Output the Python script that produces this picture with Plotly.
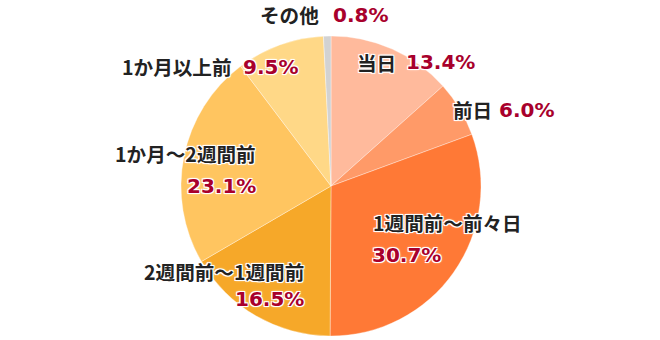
import plotly.graph_objects as go

labels = ["当日", "前日", "1週間前～前々日", "2週間前～1週間前", "1か月～2週間前", "1か月以上前", "その他"]
values = [13.4, 6.0, 30.7, 16.5, 23.1, 9.5, 0.8]
colors = ["#FFBA9C", "#FF9A68", "#FF7936", "#F6A829", "#FFC560", "#FFD887", "#D2D2D2"]

W, H = 660, 340

fig = go.Figure(go.Pie(
    labels=labels, values=values, sort=False, direction="clockwise", rotation=0,
    marker=dict(colors=colors, line=dict(color="rgba(255,255,255,0.35)", width=1)),
    textinfo="none", hoverinfo="label+percent", showlegend=False,
    domain=dict(x=[181 / W, 481 / W], y=[1 - 336 / H, 1 - 36 / H]),
))

# label placement (pixel): (label x, label y, label anchor, number x, number y, number anchor)
place = {
    "当日": (355, 62, "left", 404, 62, "left"),
    "前日": (451, 110, "left", 497, 110, "left"),
    "1週間前～前々日": (371, 222, "left", 370, 255, "left"),
    "2週間前～1週間前": (306, 271, "right", 306, 299, "right"),
    "1か月～2週間前": (258, 154, "right", 258, 186, "right"),
    "1か月以上前": (234, 67, "right", 241, 67, "left"),
    "その他": (321, 15, "right", 331, 15, "left"),
}

outline = ("-1px -1px 0 #fff, 1px -1px 0 #fff, -1px 1px 0 #fff, 1px 1px 0 #fff, "
           "0 0 2px #fff, 0 0 3px #fff")

ann = []
for lab, val in zip(labels, values):
    lx, ly, la, nx, ny, na = place[lab]
    ann.append(dict(x=lx / W, y=1 - ly / H, xref="paper", yref="paper", text=lab,
                    showarrow=False, xanchor=la, yanchor="middle",
                    font=dict(family="Noto Sans CJK JP", size=19.6, color="#222222",
                              weight="bold", shadow=outline)))
    ann.append(dict(x=nx / W, y=1 - ny / H, xref="paper", yref="paper",
                    text=f"{val:.1f}%", showarrow=False, xanchor=na, yanchor="middle",
                    font=dict(family="DejaVu Sans", size=20, color="#A8002C",
                              weight="bold", shadow=outline)))

fig.update_layout(width=W, height=H, margin=dict(l=0, r=0, t=0, b=0),
                  paper_bgcolor="white", plot_bgcolor="white", annotations=ann)

fig.write_html("out.html")
